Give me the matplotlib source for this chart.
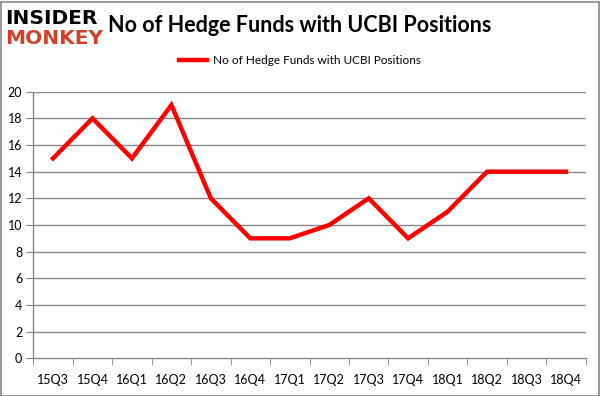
import numpy as np
import matplotlib.pyplot as plt
from matplotlib.patches import Rectangle

plt.rcParams['font.family'] = ['Lato', 'DejaVu Sans']

quarters = ['15Q3', '15Q4', '16Q1', '16Q2', '16Q3', '16Q4', '17Q1',
            '17Q2', '17Q3', '17Q4', '18Q1', '18Q2', '18Q3', '18Q4']
funds = [15, 18, 15, 19, 12, 9, 9, 10, 12, 9, 11, 14, 14, 14]
yticks = [0, 2, 4, 6, 8, 10, 12, 14, 16, 18, 20]

W, H = 601, 396
fig = plt.figure(figsize=(W / 100, H / 100), dpi=100)
ax = fig.add_axes([33.3 / W, (H - 358.3) / H, (585.7 - 33.3) / W, (358.3 - 91.7) / H])

grid_col = '#868686'
x = np.arange(len(quarters))
ax.plot(x, funds, color='#ff0000', lw=3.2, solid_joinstyle='miter',
        label='No of Hedge Funds with UCBI Positions')

ax.set_xlim(-0.5, len(quarters) - 0.5)
ax.set_ylim(0, 20)
ax.set_yticks(yticks)
ax.set_yticklabels([str(v) for v in yticks], fontsize=9)
for v in yticks[1:]:
    ax.axhline(v, color=grid_col, lw=1, zorder=0)

ax.set_xticks(x)
ax.set_xticklabels(quarters, fontsize=9)
ax.set_xticks(np.arange(len(quarters) + 1) - 0.5, minor=True)
ax.tick_params(axis='x', which='major', length=0, pad=11)
ax.tick_params(axis='x', which='minor', length=5, color=grid_col)
ax.tick_params(axis='y', length=5, color=grid_col, pad=3)
for s in ['top', 'right']:
    ax.spines[s].set_visible(False)
for s in ['left', 'bottom']:
    ax.spines[s].set_color(grid_col)
    ax.spines[s].set_linewidth(1)

fig.text(300 / W, 1 - 26 / H, 'No of Hedge Funds with UCBI Positions',
         ha='center', va='center', fontsize=15.5, fontweight='bold')
fig.legend(loc='center', bbox_to_anchor=(300 / W, 1 - 61 / H), frameon=False,
           fontsize=8.5, handlelength=2.4, handletextpad=0.5, borderpad=0)

# logo
fig.text(5 / W, 1 - 18 / H, 'INSIDER', ha='left', va='center', fontsize=14.5,
         fontweight='heavy', color='black', family='DejaVu Sans')
fig.text(5 / W, 1 - 39 / H, 'MONKEY', ha='left', va='center', fontsize=14.5,
         fontweight='heavy', color='#d0402c', family='DejaVu Sans')

fig.patches.append(Rectangle((0.5 / W, 0.5 / H), (W - 3) / W, (H - 2) / H,
                             transform=fig.transFigure, fill=False,
                             edgecolor='#888888', lw=1.2))

plt.savefig('out.png', dpi=100)
